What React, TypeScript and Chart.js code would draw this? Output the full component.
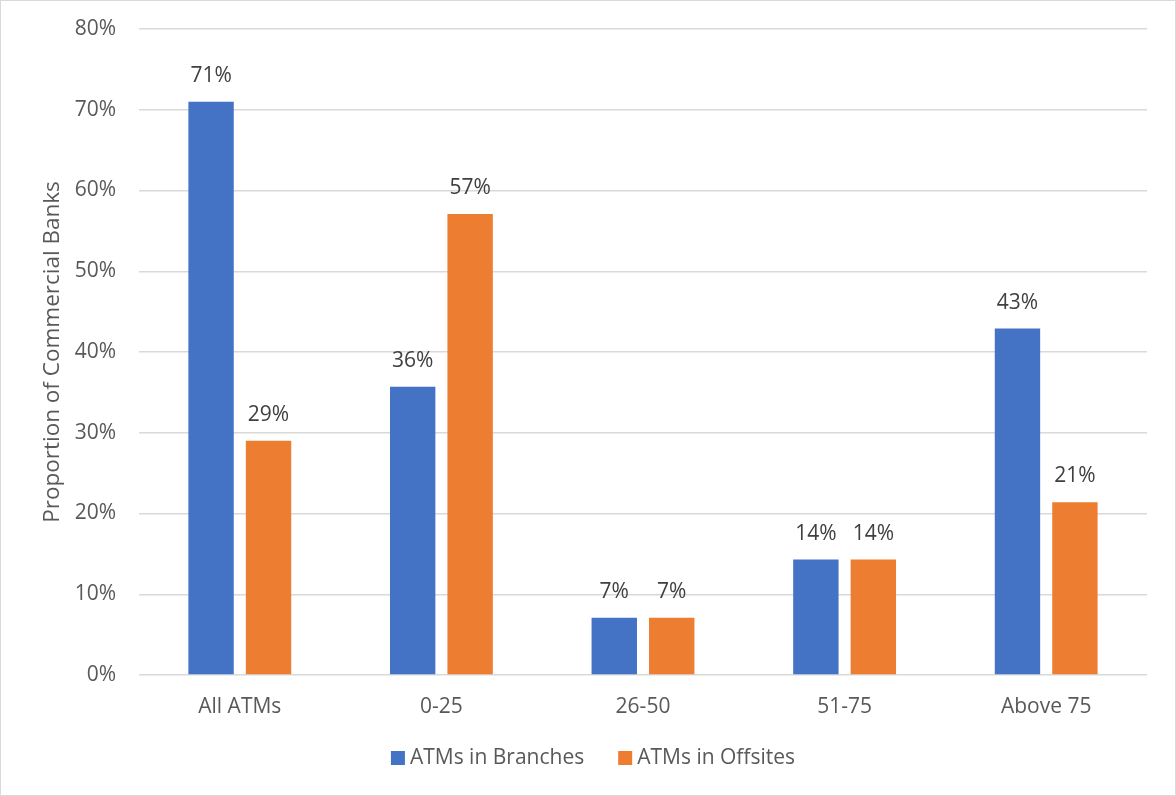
import React, { useEffect, useRef } from "react";
import { Chart, registerables } from "chart.js";

Chart.register(...registerables);

const categories = ["All ATMs", "0-25", "26-50", "51-75", "Above 75"];
const branchesValues = [71.0, 35.7, 7.1, 14.3, 42.9];
const offsitesValues = [29.0, 57.1, 7.1, 14.3, 21.4];
const seriesNames = ["ATMs in Branches", "ATMs in Offsites"];
const seriesColors = ["#4472C4", "#ED7D31"];
const yTicks = [0, 10, 20, 30, 40, 50, 60, 70, 80];
const yTitle = "Proportion of Commercial Banks";

const FONT = "'Open Sans', 'DejaVu Sans', sans-serif";
const TEXT = "#595959";

const dataLabelPlugin = {
  id: "dataLabels",
  afterDatasetsDraw(chart: any) {
    const ctx = chart.ctx;
    ctx.save();
    ctx.font = `21px ${FONT}`;
    ctx.fillStyle = "#404040";
    ctx.textAlign = "center";
    ctx.textBaseline = "middle";
    chart.data.datasets.forEach((ds: any, i: number) => {
      const meta = chart.getDatasetMeta(i);
      meta.data.forEach((bar: any, j: number) => {
        const v = ds.data[j] as number;
        ctx.fillText(Math.round(v) + "%", bar.x, bar.y - 26);
      });
    });
    ctx.restore();
  },
};

const legendPlugin = {
  id: "customLegend",
  afterDraw(chart: any) {
    const ctx = chart.ctx;
    ctx.save();
    ctx.font = `21px ${FONT}`;
    ctx.textBaseline = "middle";
    ctx.textAlign = "left";
    const box = 14;
    const boxGap = 5;
    const itemGap = 34;
    const items = chart.data.datasets.map((ds: any) => ({
      label: ds.label,
      color: ds.backgroundColor,
      w: box + boxGap + ctx.measureText(ds.label).width,
    }));
    const total = items.reduce((s: number, it: any) => s + it.w, 0) + itemGap * (items.length - 1);
    const cx = 592;
    const cy = 757;
    let x = cx - total / 2;
    items.forEach((it: any) => {
      ctx.fillStyle = it.color;
      ctx.fillRect(x, cy - box / 2, box, box);
      ctx.fillStyle = TEXT;
      ctx.fillText(it.label, x + box + boxGap, cy);
      x += it.w + itemGap;
    });
    ctx.restore();
  },
};

export default function App() {
  const ref = useRef<HTMLCanvasElement>(null);
  useEffect(() => {
    if (!ref.current) return;
    const chart = new Chart(ref.current, {
      type: "bar",
      data: {
        labels: categories,
        datasets: [
          {
            label: seriesNames[0],
            data: branchesValues,
            backgroundColor: seriesColors[0],
            categoryPercentage: 0.57,
            barPercentage: 0.79,
          },
          {
            label: seriesNames[1],
            data: offsitesValues,
            backgroundColor: seriesColors[1],
            categoryPercentage: 0.57,
            barPercentage: 0.79,
          },
        ],
      },
      options: {
        responsive: false,
        animation: false,
        layout: { padding: { left: 38, right: 28, top: 28, bottom: 57 } },
        plugins: {
          tooltip: { enabled: false },
          legend: { display: false },
        },
        scales: {
          x: {
            grid: { display: false },
            border: { display: false },
            ticks: {
              color: TEXT,
              font: { family: FONT, size: 21 },
              padding: 11,
              maxRotation: 0,
            },
            afterFit(scale: any) {
              scale.height = 63;
            },
          },
          y: {
            min: 0,
            max: 80,
            afterBuildTicks(scale: any) {
              scale.ticks = yTicks.map((v) => ({ value: v }));
            },
            grid: { color: "#d9d9d9", lineWidth: 1.5, drawTicks: false },
            border: { display: false },
            ticks: {
              color: TEXT,
              font: { family: FONT, size: 21 },
              padding: 23,
              callback: (v: any) => v + "%",
            },
            title: {
              display: true,
              text: yTitle,
              color: TEXT,
              font: { family: FONT, size: 22.5 },
              padding: { top: 0, bottom: 0 },
            },
            afterFit(scale: any) {
              scale.width = 100;
              scale.paddingTop = 0;
              scale.paddingBottom = 0;
            },
          },
        },
      },
      plugins: [dataLabelPlugin, legendPlugin],
    });
    return () => chart.destroy();
  }, []);

  return (
    <div
      style={{
        position: "absolute",
        left: 0,
        top: 0,
        width: 1176,
        height: 796,
        boxSizing: "border-box",
        border: "1px solid #d9d9d9",
        background: "#fff",
      }}
    >
      <canvas ref={ref} width={1174} height={794} style={{ display: "block" }} />
    </div>
  );
}
